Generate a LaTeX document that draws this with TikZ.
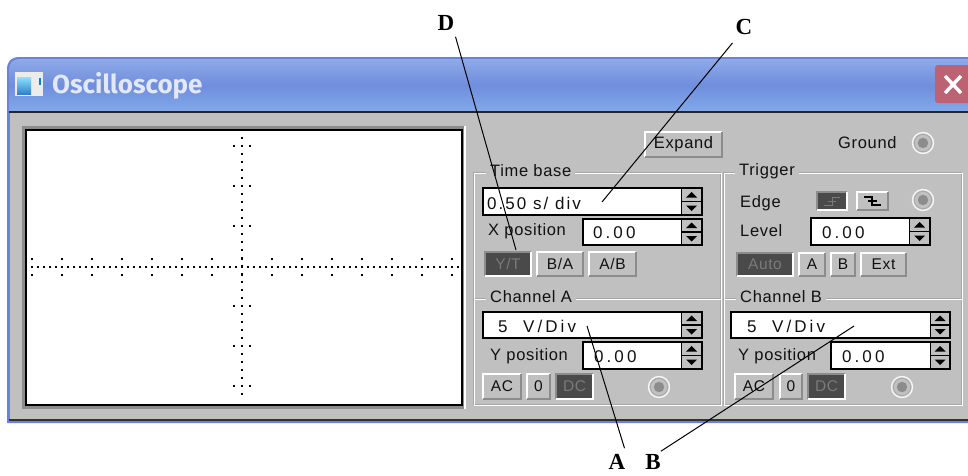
\documentclass[tikz,border=0pt]{standalone}
\usepackage{fontspec}
\setmainfont[LetterSpace=4]{Liberation Sans}
\newfontfamily\titlefont{Fira Sans}
\newfontfamily\callfont{Liberation Serif}
\newcommand{\wideval}[1]{{\fontsize{17}{17}\selectfont\addfontfeature{LetterSpace=18}#1}}
\newcommand{\midval}[1]{{\fontsize{17}{17}\selectfont\addfontfeature{LetterSpace=12}#1}}
\definecolor{panelgray}{HTML}{C0C0C0}
\definecolor{darkbtn}{HTML}{4A4A4A}
\definecolor{dimtext}{HTML}{7A7A7A}
\definecolor{bevel}{HTML}{8C8C8C}
\definecolor{barA}{HTML}{8FA9EA}
\definecolor{barB}{HTML}{6F8EDC}
\definecolor{barC}{HTML}{82A9EA}
\definecolor{winblue}{HTML}{6A82D8}
\definecolor{closered}{HTML}{BC6272}
\definecolor{inktext}{HTML}{111111}
\tikzset{
  x=1pt,y=-1pt,
  ui/.style={inner sep=0pt,text=inktext,font=\fontsize{16.5}{17}\selectfont},
  uil/.style={ui,anchor=west},
  group/.style={ui,fill=panelgray,inner xsep=4pt,inner ysep=1pt,anchor=west},
  rawbtn/.style={inner sep=0pt,text=inktext,font=\fontsize{15.5}{16}\selectfont},
  callout/.style={inner sep=0pt,text=black,font=\callfont\bfseries\fontsize{23}{23}\selectfont},
  leader/.style={draw=black,line width=1pt},
}
% raised button: name, x1, y1, x2, y2, text
\newcommand{\raisedbtn}[6]{%
  \fill[panelgray] (#2,#3) rectangle (#4,#5);
  \draw[white,line width=1.2pt] (#2,#5) -- (#2,#3) -- (#4,#3);
  \draw[bevel,line width=1.2pt] (#2,#5) -- (#4,#5) -- (#4,#3);
  \node[rawbtn] (#1) at ({(#2+#4)/2},{(#3+#5)/2}) {#6};}
% pressed button
\newcommand{\pressedbtn}[6]{%
  \fill[darkbtn] (#2,#3) rectangle (#4,#5);
  \draw[bevel,line width=1.2pt] (#2,#5) -- (#2,#3) -- (#4,#3);
  \draw[white,line width=1.2pt] (#2,#5) -- (#4,#5) -- (#4,#3);
  \node[rawbtn,text=dimtext] (#1) at ({(#2+#4)/2},{(#3+#5)/2}) {#6};}
% spin field: name, x1, y1, x2, y2, divider x
\newcommand{\spinfield}[6]{%
  \fill[white] (#2,#3) rectangle (#6,#5);
  \fill[panelgray] (#6,#3) rectangle (#4,#5);
  \draw[black,line width=1.5pt] (#2,#3) rectangle (#4,#5);
  \draw[black,line width=1pt] (#6,#3) -- (#6,#5);
  \draw[black,line width=1.2pt] (#6,{(#3+#5)/2}) -- (#4,{(#3+#5)/2});
  \fill[black] ({(#6+#4)/2-5.5},{(#3+#5)/2-4}) -- ({(#6+#4)/2+5.5},{(#3+#5)/2-4}) -- ({(#6+#4)/2},{(#3+#5)/2-9.5}) -- cycle;
  \fill[black] ({(#6+#4)/2-5.5},{(#3+#5)/2+4}) -- ({(#6+#4)/2+5.5},{(#3+#5)/2+4}) -- ({(#6+#4)/2},{(#3+#5)/2+9.5}) -- cycle;
  \coordinate (#1) at ({(#2+#6)/2},{(#3+#5)/2});}
% radio: x, y
\newcommand{\radio}[2]{%
  \draw[white!85!panelgray,line width=1.4pt] (#1,#2) circle (10.5);
  \draw[black!35,line width=.7pt] (#1,#2) circle (8.7);
  \fill[black!45] (#1,#2) circle (5.2);}
\begin{document}
\begin{tikzpicture}
\useasboundingbox (0,0) rectangle (968,475);
\fill[white] (0,0) rectangle (968,475);
% window
\fill[winblue] (7,423) -- (7,70) .. controls (7,61) and (11,57) .. (20,57) -- (968,57) -- (968,423) -- cycle;
\begin{scope}
\clip (9,112) -- (9,70) .. controls (9,63) and (13,59) .. (20,59) -- (968,59) -- (968,112) -- cycle;
\shade[top color=barA,bottom color=barB] (9,59) rectangle (968,85);
\shade[top color=barB,bottom color=barC] (9,85) rectangle (968,112);
\end{scope}
\fill[panelgray] (10,112) rectangle (968,419);
\draw[black!85,line width=1.6pt] (9,112) -- (968,112);
\draw[black!80,line width=2pt] (9,420) -- (968,420);
% title bar
\fill[white!85!gray] (15,72) rectangle (43,96);
\shade[top color=blue!25!cyan!45,bottom color=blue!50!cyan!60!gray] (17,77) rectangle (31,94);
\fill[cyan!60!blue] (39,78) rectangle (41,85);
\node[inner sep=0pt,anchor=west,text=white!80!barB,font=\titlefont\bfseries\fontsize{26}{26}\selectfont] (wtitle) at (52,86) {Oscilloscope};
\fill[closered,rounded corners=3pt] (935,65) rectangle (975,103);
\draw[white,line width=3.4pt] (945,76) -- (961,93) (961,76) -- (945,93);
% screen
\fill[bevel] (22,126) rectangle (466,409);
\fill[white] (464,126) rectangle (466,409);
\draw[black,line width=1.6pt,fill=white] (26,130) rectangle (462,405);
\foreach \i in {0,...,71} {\fill[black] ({32+6*\i-.8},266.2) rectangle ++(1.6,1.6);}
\foreach \i in {0,...,32} {\fill[black] (241.2,{138+8*\i-.8}) rectangle ++(1.6,1.6);}
\foreach \i in {0,...,14} {
  \fill[black] ({32+30*\i-.8},258.2) rectangle ++(1.6,1.6);
  \fill[black] ({32+30*\i-.8},274.2) rectangle ++(1.6,1.6);
}
\foreach \yy in {146,186,226,306,346,386} {
  \fill[black] (233.2,\yy-.8) rectangle ++(1.6,1.6);
  \fill[black] (249.2,\yy-.8) rectangle ++(1.6,1.6);
}
% group frames
\foreach \xa/\xb in {474/721,724/962} {
  \draw[black!35,line width=.7pt] (\xa-1,172) rectangle (\xb-1,404);
  \draw[black!35,line width=.7pt] (\xa-1,298) -- (\xb-1,298);
  \draw[white,line width=1pt] (\xa,173) rectangle (\xb,405);
  \draw[white,line width=1pt] (\xa,299) -- (\xb,299);
}
\node[group] (gtime) at (486,171) {Time base};
\node[group] (gtrig) at (735,171) {Trigger};
\node[group] (gcha) at (486,297) {Channel A};
\node[group] (gchb) at (736,297) {Channel B};
% top row
\raisedbtn{bexpand}{645}{132}{722}{157}{\fontsize{16.5}{17}\selectfont Expand}
\node[uil] (tground) at (838,143) {Ground};
\radio{923}{143}
% time base
\spinfield{ftime}{483}{188}{702}{215}{681}
\node[uil] (ttime) at (487,203) {\midval{0.50 s/ div}};
\node[uil] (txpos) at (488,231) {X position};
\spinfield{fxpos}{583}{219}{702}{245}{681}
\node[uil] (vxpos) at (593,233) {\wideval{0.00}};
\pressedbtn{byt}{485}{252}{531}{276}{Y/T}
\raisedbtn{bba}{537}{252}{583}{276}{B/A}
\raisedbtn{bab}{589}{252}{636}{276}{A/B}
% trigger
\node[uil] (tedge) at (740,203) {Edge};
\pressedbtn{bup}{817}{192}{847}{210}{}
\draw[dimtext,line width=1pt] (824,205) -- (832,205) -- (832,197) -- (840,197) (828,201) -- (836,201);
\raisedbtn{bdown}{857}{192}{888}{210}{}
\draw[black,line width=1.2pt] (864,197) -- (872,197) -- (872,205) -- (881,205) (868,201) -- (877,201);
\radio{923}{200}
\node[uil] (tlevel) at (740,231) {Level};
\spinfield{flevel}{811}{218}{930}{245}{909}
\node[uil] (vlevel) at (822,233) {\wideval{0.00}};
\pressedbtn{bauto}{737}{253}{793}{276}{Auto}
\raisedbtn{btra}{799}{253}{825}{276}{A}
\raisedbtn{btrb}{831}{253}{855}{276}{B}
\raisedbtn{bext}{861}{253}{906}{276}{Ext}
% channel A
\spinfield{fcha}{483}{312}{702}{338}{681}
\node[uil] (vcha) at (498,326) {\wideval{5\ \ V/Div}};
\node[uil] (typa) at (490,356) {Y position};
\spinfield{fypa}{583}{342}{702}{369}{681}
\node[uil] (vypa) at (594,357) {\wideval{0.00}};
\raisedbtn{baca}{483}{374}{521}{399}{AC}
\raisedbtn{bza}{527}{374}{550}{399}{0}
\pressedbtn{bdca}{556}{374}{593}{399}{DC}
\radio{659}{387}
% channel B
\spinfield{fchb}{731}{312}{950}{338}{930}
\node[uil] (vchb) at (747,326) {\wideval{5\ \ V/Div}};
\node[uil] (typb) at (738,356) {Y position};
\spinfield{fypb}{831}{342}{950}{369}{930}
\node[uil] (vypb) at (842,357) {\wideval{0.00}};
\raisedbtn{bacb}{735}{374}{773}{399}{AC}
\raisedbtn{bzb}{780}{374}{802}{399}{0}
\pressedbtn{bdcb}{808}{374}{845}{399}{DC}
\radio{902}{387}
% callouts
\node[callout] (lD) at (446,23) {D};
\node[callout] (lC) at (744,27) {C};
\node[callout] (lA) at (617,462) {A};
\node[callout] (lB) at (653,462) {B};
\coordinate (tD) at (516,250);
\coordinate (tC) at (602,202);
\coordinate (tA) at (587,326);
\coordinate (tB) at (854,326);
\draw[leader] ([shift={(1,6)}]lD.south east) -- (tD);
\draw[leader] ([shift={(-3,8)}]lC.south west) -- (tC);
\draw[leader] ([shift={(-1,-6)}]lA.north east) -- (tA);
\draw[leader] ([shift={(0,-3)}]lB.north east) -- (tB);
\end{tikzpicture}
\end{document}
